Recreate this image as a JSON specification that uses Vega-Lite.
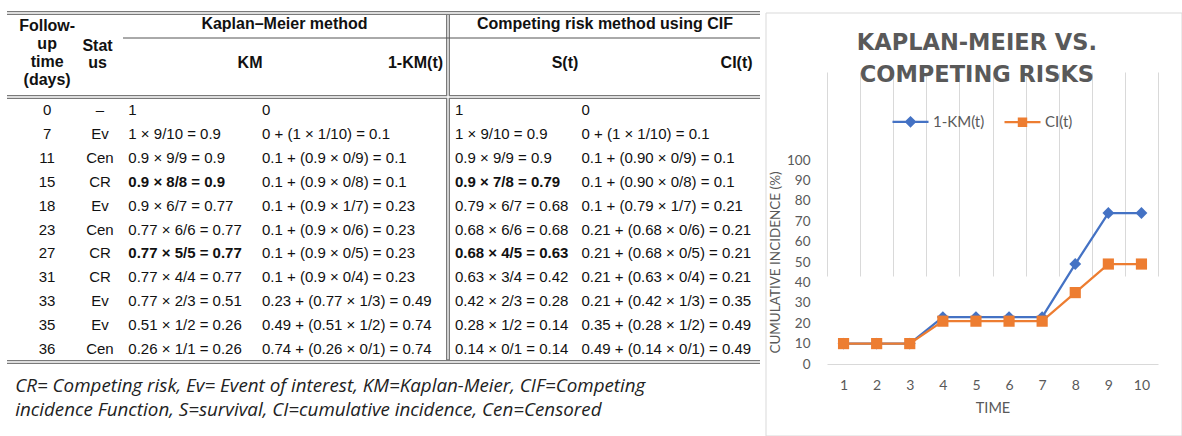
{
  "$schema": "https://vega.github.io/schema/vega-lite/v6.json",
  "width": 1182,
  "height": 436,
  "autosize": {"type": "none"},
  "padding": 0,
  "background": "white",
  "config": {"view": {"stroke": null}},
  "datasets": {
    "steps": [
      {"day": 0, "status": "–", "km": "1", "one_minus_km": "0", "surv": "1", "cif": "0"},
      {"day": 7, "status": "Ev", "km": "1 × 9/10 = 0.9", "one_minus_km": "0 + (1 × 1/10) = 0.1", "surv": "1 × 9/10 = 0.9", "cif": "0 + (1 × 1/10) = 0.1"},
      {"day": 11, "status": "Cen", "km": "0.9 × 9/9 = 0.9", "one_minus_km": "0.1 + (0.9 × 0/9) = 0.1", "surv": "0.9 × 9/9 = 0.9", "cif": "0.1 + (0.90 × 0/9) = 0.1"},
      {"day": 15, "status": "CR", "km": "0.9 × 8/8 = 0.9", "one_minus_km": "0.1 + (0.9 × 0/8) = 0.1", "surv": "0.9 × 7/8 = 0.79", "cif": "0.1 + (0.90 × 0/8) = 0.1"},
      {"day": 18, "status": "Ev", "km": "0.9 × 6/7 = 0.77", "one_minus_km": "0.1 + (0.9 × 1/7) = 0.23", "surv": "0.79 × 6/7 = 0.68", "cif": "0.1 + (0.79 × 1/7) = 0.21"},
      {"day": 23, "status": "Cen", "km": "0.77 × 6/6 = 0.77", "one_minus_km": "0.1 + (0.9 × 0/6) = 0.23", "surv": "0.68 × 6/6 = 0.68", "cif": "0.21 + (0.68 × 0/6) = 0.21"},
      {"day": 27, "status": "CR", "km": "0.77 × 5/5 = 0.77", "one_minus_km": "0.1 + (0.9 × 0/5) = 0.23", "surv": "0.68 × 4/5 = 0.63", "cif": "0.21 + (0.68 × 0/5) = 0.21"},
      {"day": 31, "status": "CR", "km": "0.77 × 4/4 = 0.77", "one_minus_km": "0.1 + (0.9 × 0/4) = 0.23", "surv": "0.63 × 3/4 = 0.42", "cif": "0.21 + (0.63 × 0/4) = 0.21"},
      {"day": 33, "status": "Ev", "km": "0.77 × 2/3 = 0.51", "one_minus_km": "0.23 + (0.77 × 1/3) = 0.49", "surv": "0.42 × 2/3 = 0.28", "cif": "0.21 + (0.42 × 1/3) = 0.35"},
      {"day": 35, "status": "Ev", "km": "0.51 × 1/2 = 0.26", "one_minus_km": "0.49 + (0.51 × 1/2) = 0.74", "surv": "0.28 × 1/2 = 0.14", "cif": "0.35 + (0.28 × 1/2) = 0.49"},
      {"day": 36, "status": "Cen", "km": "0.26 × 1/1 = 0.26", "one_minus_km": "0.74 + (0.26 × 0/1) = 0.74", "surv": "0.14 × 0/1 = 0.14", "cif": "0.49 + (0.14 × 0/1) = 0.49"}
    ],
    "curves": [
      {"time": 1, "series": "1-KM(t)", "incidence": 10},
      {"time": 2, "series": "1-KM(t)", "incidence": 10},
      {"time": 3, "series": "1-KM(t)", "incidence": 10},
      {"time": 4, "series": "1-KM(t)", "incidence": 23},
      {"time": 5, "series": "1-KM(t)", "incidence": 23},
      {"time": 6, "series": "1-KM(t)", "incidence": 23},
      {"time": 7, "series": "1-KM(t)", "incidence": 23},
      {"time": 8, "series": "1-KM(t)", "incidence": 49},
      {"time": 9, "series": "1-KM(t)", "incidence": 74},
      {"time": 10, "series": "1-KM(t)", "incidence": 74},
      {"time": 1, "series": "CI(t)", "incidence": 10},
      {"time": 2, "series": "CI(t)", "incidence": 10},
      {"time": 3, "series": "CI(t)", "incidence": 10},
      {"time": 4, "series": "CI(t)", "incidence": 21},
      {"time": 5, "series": "CI(t)", "incidence": 21},
      {"time": 6, "series": "CI(t)", "incidence": 21},
      {"time": 7, "series": "CI(t)", "incidence": 21},
      {"time": 8, "series": "CI(t)", "incidence": 35},
      {"time": 9, "series": "CI(t)", "incidence": 49},
      {"time": 10, "series": "CI(t)", "incidence": 49}
    ]
  },
  "layer": [
    {
      "layer": [
        {
          "data": {"name": "steps"},
          "encoding": {
            "y": {"field": "day", "type": "ordinal", "scale": {"type": "point", "range": [110, 349], "padding": 0}, "axis": null}
          },
          "layer": [
            {
              "mark": {"type": "text", "align": "center", "baseline": "middle", "font": "Liberation Sans", "fontSize": 15, "color": "#111"},
              "encoding": {
                "x": {"datum": 0.59, "type": "quantitative", "scale": {"type": "linear", "domain": [0, 1, 2, 3, 4, 5, 6, 7, 8], "range": [7, 75, 123, 257, 448, 575, 760, 766, 1182], "nice": false, "zero": false}, "axis": null},
                "text": {"field": "day", "type": "nominal"}
              }
            },
            {
              "mark": {"type": "text", "align": "center", "baseline": "middle", "font": "Liberation Sans", "fontSize": 15, "color": "#111"},
              "encoding": {
                "x": {"datum": 1.52, "type": "quantitative", "scale": {"type": "linear", "domain": [0, 1, 2, 3, 4, 5, 6, 7, 8], "range": [7, 75, 123, 257, 448, 575, 760, 766, 1182], "nice": false, "zero": false}, "axis": null},
                "text": {"field": "status", "type": "nominal"}
              }
            },
            {
              "transform": [{"filter": "datum.day !== 15 && datum.day !== 27"}],
              "mark": {"type": "text", "align": "left", "baseline": "middle", "font": "Liberation Sans", "fontSize": 15, "color": "#111"},
              "encoding": {
                "x": {"datum": 2.04, "type": "quantitative", "scale": {"type": "linear", "domain": [0, 1, 2, 3, 4, 5, 6, 7, 8], "range": [7, 75, 123, 257, 448, 575, 760, 766, 1182], "nice": false, "zero": false}, "axis": null},
                "text": {"field": "km", "type": "nominal"}
              }
            },
            {
              "transform": [{"filter": "datum.day === 15 || datum.day === 27"}],
              "mark": {"type": "text", "align": "left", "baseline": "middle", "font": "Liberation Sans", "fontSize": 15, "fontWeight": "bold", "color": "#111"},
              "encoding": {
                "x": {"datum": 2.04, "type": "quantitative", "scale": {"type": "linear", "domain": [0, 1, 2, 3, 4, 5, 6, 7, 8], "range": [7, 75, 123, 257, 448, 575, 760, 766, 1182], "nice": false, "zero": false}, "axis": null},
                "text": {"field": "km", "type": "nominal"}
              }
            },
            {
              "mark": {"type": "text", "align": "left", "baseline": "middle", "font": "Liberation Sans", "fontSize": 15, "color": "#111"},
              "encoding": {
                "x": {"datum": 3.026, "type": "quantitative", "scale": {"type": "linear", "domain": [0, 1, 2, 3, 4, 5, 6, 7, 8], "range": [7, 75, 123, 257, 448, 575, 760, 766, 1182], "nice": false, "zero": false}, "axis": null},
                "text": {"field": "one_minus_km", "type": "nominal"}
              }
            },
            {
              "transform": [{"filter": "datum.day !== 15 && datum.day !== 27"}],
              "mark": {"type": "text", "align": "left", "baseline": "middle", "font": "Liberation Sans", "fontSize": 15, "color": "#111"},
              "encoding": {
                "x": {"datum": 4.055, "type": "quantitative", "scale": {"type": "linear", "domain": [0, 1, 2, 3, 4, 5, 6, 7, 8], "range": [7, 75, 123, 257, 448, 575, 760, 766, 1182], "nice": false, "zero": false}, "axis": null},
                "text": {"field": "surv", "type": "nominal"}
              }
            },
            {
              "transform": [{"filter": "datum.day === 15 || datum.day === 27"}],
              "mark": {"type": "text", "align": "left", "baseline": "middle", "font": "Liberation Sans", "fontSize": 15, "fontWeight": "bold", "color": "#111"},
              "encoding": {
                "x": {"datum": 4.055, "type": "quantitative", "scale": {"type": "linear", "domain": [0, 1, 2, 3, 4, 5, 6, 7, 8], "range": [7, 75, 123, 257, 448, 575, 760, 766, 1182], "nice": false, "zero": false}, "axis": null},
                "text": {"field": "surv", "type": "nominal"}
              }
            },
            {
              "mark": {"type": "text", "align": "left", "baseline": "middle", "font": "Liberation Sans", "fontSize": 15, "color": "#111"},
              "encoding": {
                "x": {"datum": 5.035, "type": "quantitative", "scale": {"type": "linear", "domain": [0, 1, 2, 3, 4, 5, 6, 7, 8], "range": [7, 75, 123, 257, 448, 575, 760, 766, 1182], "nice": false, "zero": false}, "axis": null},
                "text": {"field": "cif", "type": "nominal"}
              }
            }
          ]
        },
        {
          "data": {"values": [{}]},
          "encoding": {
            "x": {"datum": 0, "type": "quantitative", "scale": {"type": "linear", "domain": [0, 1, 2, 3, 4, 5, 6, 7, 8], "range": [7, 75, 123, 257, 448, 575, 760, 766, 1182], "nice": false, "zero": false}, "axis": null},
            "y": {"datum": 0, "type": "quantitative", "scale": {"type": "linear", "domain": [0, 1, 2, 3, 4], "range": [13, 38, 97, 362, 436], "nice": false, "zero": false}, "axis": null}
          },
          "layer": [
            {"mark": {"type": "rule", "color": "#7a7a7a", "strokeWidth": 4}, "encoding": {"x2": {"datum": 6}}},
            {"mark": {"type": "rule", "color": "#7a7a7a", "strokeWidth": 4}, "encoding": {"x2": {"datum": 6}, "y": {"datum": 2}}},
            {"mark": {"type": "rule", "color": "#7a7a7a", "strokeWidth": 4}, "encoding": {"x2": {"datum": 6}, "y": {"datum": 3}}},
            {"mark": {"type": "rule", "color": "#7a7a7a", "strokeWidth": 4}, "encoding": {"x": {"datum": 4}, "y": {"datum": 0}, "y2": {"datum": 3}}},
            {"mark": {"type": "rule", "color": "white", "strokeWidth": 1.3}, "encoding": {"x2": {"datum": 6}}},
            {"mark": {"type": "rule", "color": "white", "strokeWidth": 1.3}, "encoding": {"x2": {"datum": 6}, "y": {"datum": 2}}},
            {"mark": {"type": "rule", "color": "white", "strokeWidth": 1.3}, "encoding": {"x2": {"datum": 6}, "y": {"datum": 3}}},
            {"mark": {"type": "rule", "color": "white", "strokeWidth": 1.3}, "encoding": {"x": {"datum": 4}, "y": {"datum": 0.08}, "y2": {"datum": 2.99}}},
            {"mark": {"type": "rule", "color": "#555", "strokeWidth": 1}, "encoding": {"x": {"datum": 2}, "x2": {"datum": 6}, "y": {"datum": 1}}},
            {
              "mark": {"type": "text", "align": "center", "baseline": "middle", "font": "Liberation Sans", "fontSize": 16, "fontWeight": "bold", "color": "#111", "lineBreak": "\n", "lineHeight": 18},
              "encoding": {"x": {"datum": 0.59}, "y": {"datum": 0.5}, "text": {"value": "Follow-\nup\ntime\n(days)"}}
            },
            {
              "mark": {"type": "text", "align": "center", "baseline": "middle", "font": "Liberation Sans", "fontSize": 16, "fontWeight": "bold", "color": "#111", "lineBreak": "\n", "lineHeight": 17},
              "encoding": {"x": {"datum": 1.47}, "y": {"datum": 1.136}, "text": {"value": "Stat\nus"}}
            },
            {
              "mark": {"type": "text", "align": "center", "baseline": "middle", "font": "Liberation Sans", "fontSize": 16, "fontWeight": "bold", "color": "#111"},
              "encoding": {"x": {"datum": 3.144}, "y": {"datum": 0.44}, "text": {"value": "Kaplan–Meier method"}}
            },
            {
              "mark": {"type": "text", "align": "center", "baseline": "middle", "font": "Liberation Sans", "fontSize": 16, "fontWeight": "bold", "color": "#111"},
              "encoding": {"x": {"datum": 5.162}, "y": {"datum": 0.44}, "text": {"value": "Competing risk method using CIF"}}
            },
            {
              "mark": {"type": "text", "align": "center", "baseline": "middle", "font": "Liberation Sans", "fontSize": 16, "fontWeight": "bold", "color": "#111"},
              "encoding": {"x": {"datum": 2.948}, "y": {"datum": 1.42}, "text": {"value": "KM"}}
            },
            {
              "mark": {"type": "text", "align": "right", "baseline": "middle", "font": "Liberation Sans", "fontSize": 16, "fontWeight": "bold", "color": "#111"},
              "encoding": {"x": {"datum": 3.974}, "y": {"datum": 1.42}, "text": {"value": "1-KM(t)"}}
            },
            {
              "mark": {"type": "text", "align": "center", "baseline": "middle", "font": "Liberation Sans", "fontSize": 16, "fontWeight": "bold", "color": "#111"},
              "encoding": {"x": {"datum": 4.921}, "y": {"datum": 1.42}, "text": {"value": "S(t)"}}
            },
            {
              "mark": {"type": "text", "align": "right", "baseline": "middle", "font": "Liberation Sans", "fontSize": 16, "fontWeight": "bold", "color": "#111"},
              "encoding": {"x": {"datum": 5.96}, "y": {"datum": 1.42}, "text": {"value": "CI(t)"}}
            },
            {
              "mark": {"type": "text", "align": "left", "baseline": "middle", "font": "Open Sans", "fontSize": 18.8, "fontStyle": "italic", "color": "#222", "lineBreak": "\n", "lineHeight": 24},
              "encoding": {"x": {"datum": 0.12}, "y": {"datum": 3.324}, "text": {"value": "CR= Competing risk, Ev= Event of interest, KM=Kaplan-Meier, CIF=Competing\nincidence Function, S=survival, CI=cumulative incidence, Cen=Censored"}}
            },
            {
              "mark": {"type": "rect", "filled": false, "stroke": "#d9d9d9", "strokeWidth": 1},
              "encoding": {"x": {"datum": 7}, "x2": {"datum": 8}, "y": {"datum": 0}, "y2": {"datum": 4}}
            },
            {
              "mark": {"type": "text", "align": "center", "baseline": "middle", "font": "DejaVu Sans", "fontSize": 22.5, "fontWeight": "bold", "color": "#595959", "lineBreak": "\n", "lineHeight": 32},
              "encoding": {"x": {"datum": 7.507}, "y": {"datum": 1.085}, "text": {"value": "KAPLAN-MEIER VS.\nCOMPETING RISKS"}}
            }
          ]
        }
      ],
      "resolve": {"scale": {"y": "independent"}}
    },
    {
      "data": {"name": "curves"},
      "encoding": {
        "x": {
          "field": "time", "type": "ordinal",
          "scale": {"type": "band", "range": [827, 1158], "paddingInner": 0, "paddingOuter": 0},
          "axis": {
            "orient": "bottom", "offset": -72, "title": "TIME", "labelAngle": 0,
            "tickBand": "extent", "grid": true, "gridColor": "#d9d9d9", "gridWidth": 1,
            "domainColor": "#d9d9d9", "ticks": false, "labelPadding": 14,
            "labelFont": "Lato", "labelFontSize": 14, "labelColor": "#595959",
            "titleFont": "Lato", "titleFontSize": 14.5, "titleFontWeight": "normal", "titleColor": "#595959", "titlePadding": 9
          }
        },
        "y": {
          "field": "incidence", "type": "quantitative",
          "scale": {"domain": [0, 100], "range": [364, 160], "nice": false, "zero": true},
          "axis": {
            "orient": "left", "offset": -827, "title": "CUMULATIVE INCIDENCE (%)",
            "values": [0, 10, 20, 30, 40, 50, 60, 70, 80, 90, 100],
            "grid": false, "domain": false, "ticks": false, "labelPadding": 17,
            "labelFont": "Lato", "labelFontSize": 13.5, "labelColor": "#595959",
            "titleFont": "Lato", "titleFontSize": 13.5, "titleFontWeight": "normal", "titleColor": "#595959", "titlePadding": 4
          }
        },
        "color": {
          "field": "series", "type": "nominal",
          "scale": {"domain": ["1-KM(t)", "CI(t)"], "range": ["#4472C4", "#ED7D31"]},
          "legend": {
            "orient": "none", "legendX": 891, "legendY": 102, "direction": "horizontal",
            "title": null, "padding": 0, "symbolSize": 1296, "columnPadding": 15,
            "symbolStrokeWidth": 2.25,
            "labelFont": "Lato", "labelFontSize": 15, "labelColor": "#595959", "labelOffset": 3,
            "encode": {
              "symbols": {
                "update": {
                  "shape": {"signal": "datum.value === '1-KM(t)' ? 'M-1,0H1M0,-0.24L0.24,0L0,0.24L-0.24,0Z' : 'M-1,0H1M-0.2,-0.2H0.2V0.2H-0.2Z'"},
                  "strokeWidth": {"value": 2.25}
                }
              }
            }
          }
        }
      },
      "layer": [
        {"mark": {"type": "line", "strokeWidth": 2.25}},
        {
          "transform": [{"filter": "datum.series === '1-KM(t)'"}],
          "mark": {"type": "point", "filled": true, "opacity": 1, "size": 140, "shape": "diamond"}
        },
        {
          "transform": [{"filter": "datum.series === 'CI(t)'"}],
          "mark": {"type": "point", "filled": true, "opacity": 1, "size": 125, "shape": "square"}
        }
      ]
    }
  ],
  "resolve": {"scale": {"x": "independent", "y": "independent"}, "axis": {"x": "independent", "y": "independent"}}
}
